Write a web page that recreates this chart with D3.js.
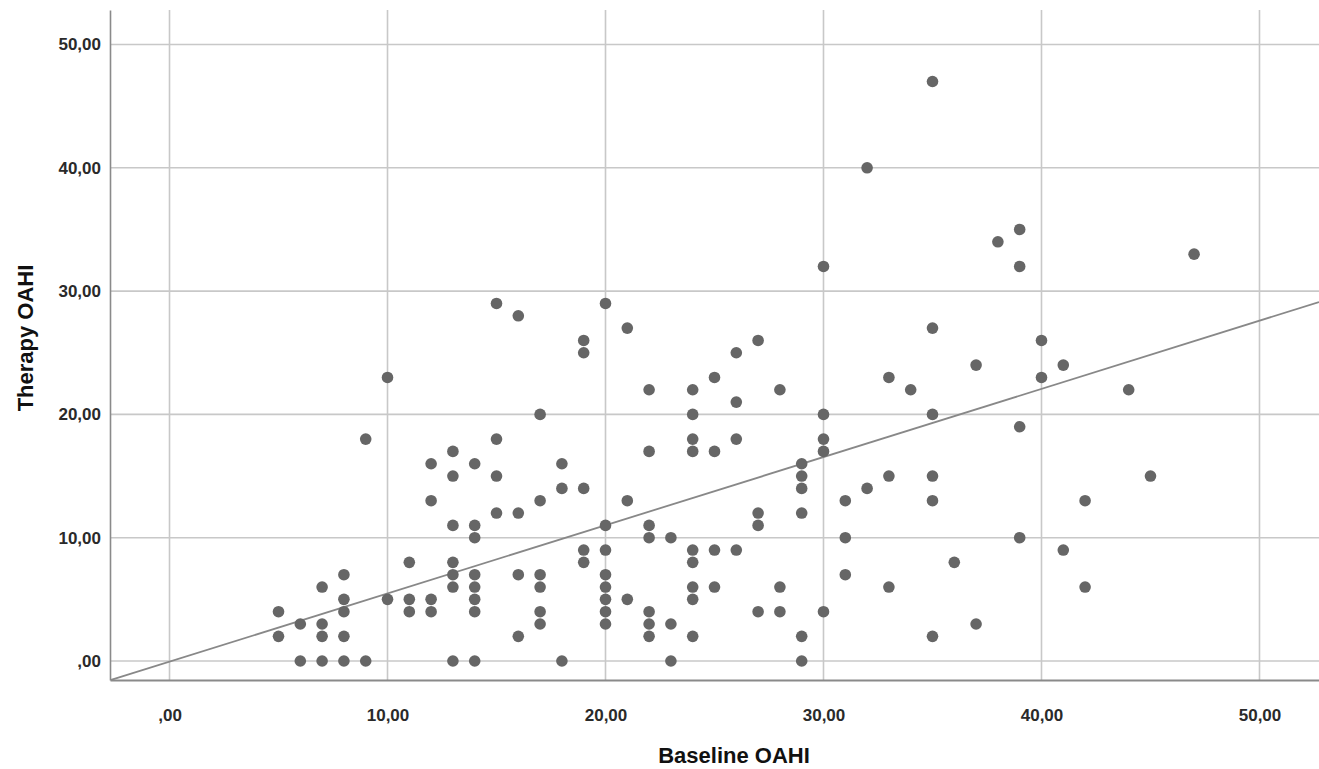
<!DOCTYPE html>
<html>
<head>
<meta charset="utf-8">
<script src="https://cdn.jsdelivr.net/npm/d3@7"></script>
<style>
  body { margin: 0; background: #fff; }
  text { font-family: "Liberation Sans", Arial, sans-serif; }
</style>
</head>
<body>
<svg id="chart"></svg>
<script>
// baseline OAHI values (x), and the therapy OAHI values seen at each one
var baselineOAHI = [5, 6, 7, 8, 9, 10, 11, 12, 13, 14, 15, 16, 17, 18, 19, 20, 21, 22, 23, 24,
    25, 26, 27, 28, 29, 30, 31, 32, 33, 34, 35, 36, 37, 38, 39, 40, 41, 42, 44, 45, 47];
var therapyOAHI = [
    [4, 2], [3, 0], [6, 3, 2, 0], [7, 5, 4, 2, 0], [18, 0], [23, 5], [8, 5, 4], [16, 13, 5, 4],
    [17, 15, 11, 8, 7, 6, 0], [16, 11, 10, 7, 6, 5, 4, 0], [29, 18, 15, 12], [28, 12, 7, 2],
    [20, 13, 7, 6, 4, 3], [16, 14, 0], [26, 25, 14, 9, 8], [29, 11, 9, 7, 6, 5, 4, 3],
    [27, 13, 5], [22, 17, 11, 10, 4, 3, 2], [10, 3, 0], [22, 20, 18, 17, 9, 8, 6, 5, 2],
    [23, 17, 9, 6], [25, 21, 18, 9], [26, 12, 11, 4], [22, 6, 4], [16, 15, 14, 12, 2, 0],
    [32, 20, 18, 17, 4], [13, 10, 7], [40, 14], [23, 15, 6], [22], [47, 27, 20, 15, 13, 2],
    [8], [24, 3], [34], [35, 32, 19, 10], [26, 23], [24, 9], [13, 6], [22], [15], [33]
];
var tickValues = [0, 10, 20, 30, 40, 50];
var tickLabels = [",00", "10,00", "20,00", "30,00", "40,00", "50,00"];
// fit line
var fitIntercept = -0.05, fitSlope = 0.553;

var points = [];
for (let i = 0; i < baselineOAHI.length; i++) {
    for (let j = 0; j < therapyOAHI[i].length; j++) {
        points.push({ x: baselineOAHI[i], y: therapyOAHI[i][j] });
    }
}

var svgWidth = 1319, svgHeight = 769;
var plot = { left: 110, right: 1319, top: 10, bottom: 680 };

var svg = d3.select("#chart")
    .attr("width", svgWidth)
    .attr("height", svgHeight);

var x = d3.scaleLinear().domain([-2.73, 52.73]).range([plot.left, plot.right]);
var y = d3.scaleLinear().domain([-1.54, 52.8]).range([plot.bottom, plot.top]);

svg.append("defs").append("clipPath").attr("id", "plotclip")
    .append("rect")
    .attr("x", plot.left).attr("y", plot.top)
    .attr("width", plot.right - plot.left).attr("height", plot.bottom - plot.top);

// grid
svg.append("g")
    .selectAll("line")
    .data(tickValues)
    .enter().append("line")
    .attr("x1", d => x(d)).attr("x2", d => x(d))
    .attr("y1", plot.top).attr("y2", plot.bottom)
    .attr("stroke", "#c8c8c8")
    .attr("stroke-width", 1.6);

svg.append("g")
    .selectAll("line")
    .data(tickValues)
    .enter().append("line")
    .attr("y1", d => y(d)).attr("y2", d => y(d))
    .attr("x1", plot.left).attr("x2", plot.right)
    .attr("stroke", "#c8c8c8")
    .attr("stroke-width", 1.6);

// axes
var xAxis = svg.append("g")
    .attr("transform", "translate(0," + plot.bottom + ")")
    .call(d3.axisBottom(x).tickValues(tickValues).tickSize(0).tickPadding(29)
        .tickFormat((d, i) => tickLabels[i]));
xAxis.select(".domain").attr("stroke", "#8a8a8a").attr("stroke-width", 2);
xAxis.selectAll("text")
    .attr("font-size", 17).attr("font-weight", "bold").attr("fill", "#2a2a2a")
    .style("font-family", "'Liberation Sans', Arial, sans-serif");

var yAxis = svg.append("g")
    .attr("transform", "translate(" + plot.left + ",0)")
    .call(d3.axisLeft(y).tickValues(tickValues).tickSize(0).tickPadding(9)
        .tickFormat((d, i) => tickLabels[i]));
yAxis.select(".domain").attr("stroke", "#8a8a8a").attr("stroke-width", 1.6);
yAxis.selectAll("text")
    .attr("font-size", 17).attr("font-weight", "bold").attr("fill", "#2a2a2a")
    .style("font-family", "'Liberation Sans', Arial, sans-serif");

// fit line
var fitLine = d3.line()
    .x(d => x(d))
    .y(d => y(fitIntercept + fitSlope * d));

svg.append("path")
    .datum(x.domain())
    .attr("clip-path", "url(#plotclip)")
    .attr("fill", "none")
    .attr("stroke", "#888")
    .attr("stroke-width", 1.8)
    .attr("d", fitLine);

// points
svg.append("g")
    .selectAll("circle")
    .data(points)
    .enter().append("circle")
    .attr("cx", d => x(d.x))
    .attr("cy", d => y(d.y))
    .attr("r", 5.8)
    .attr("fill", "#666");

// titles
svg.append("text")
    .attr("x", 734)
    .attr("y", 763)
    .attr("text-anchor", "middle")
    .attr("font-size", 22)
    .attr("font-weight", "bold")
    .attr("fill", "#111")
    .text("Baseline OAHI");

svg.append("text")
    .attr("transform", "translate(33,338) rotate(-90)")
    .attr("text-anchor", "middle")
    .attr("font-size", 22)
    .attr("font-weight", "bold")
    .attr("fill", "#111")
    .text("Therapy OAHI");
</script>
</body>
</html>
